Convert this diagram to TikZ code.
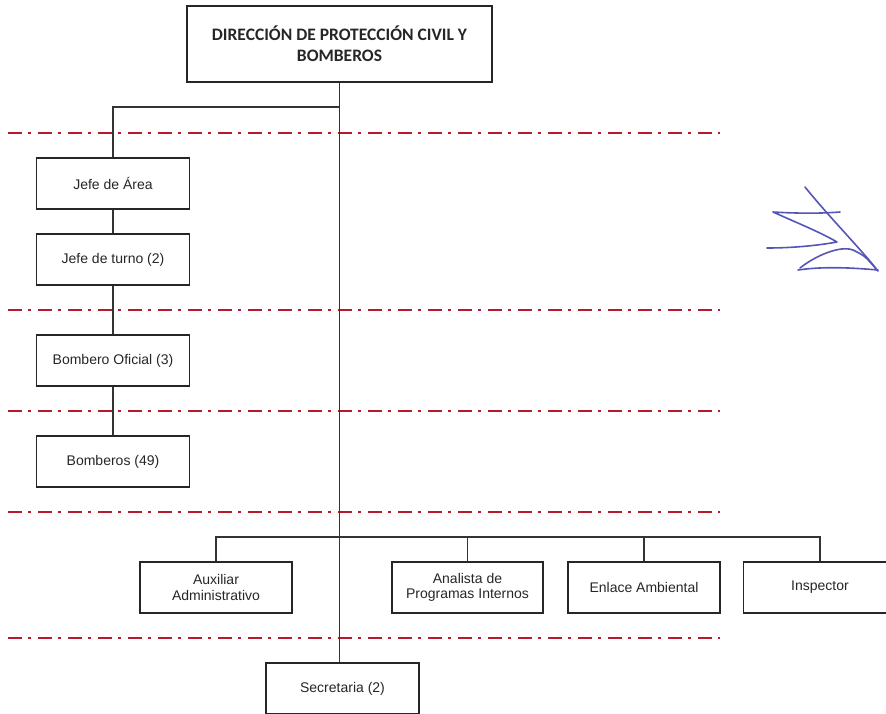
\documentclass[tikz,border=0pt]{standalone}
\usepackage{fontspec}
\setmainfont{Liberation Sans}
\newfontfamily\titlefont{Carlito}
\begin{document}
\begin{tikzpicture}[x=1pt,y=-1pt,
 box/.style={draw=black!85, line width=1.5pt, minimum width=153pt, minimum height=51pt, inner sep=0pt, align=center, font=\fontsize{14}{15.5}\selectfont, text=black!85},
 conn/.style={draw=black!80, line width=1.6pt},
 sep/.style={draw={rgb,255:red,185;green,25;blue,45}, line width=1.8pt, dash pattern=on 14pt off 6pt on 3pt off 7pt},
 sig/.style={draw={rgb,255:red,85;green,85;blue,185}, line width=1.6pt, line cap=round, line join=round}]
\useasboundingbox (0,0) rectangle (886,713);
\clip (0,0) rectangle (886,713);

% separators
\foreach \yy in {133,310,411,512,638} \draw[sep] (8,\yy) -- (720,\yy);

% nodes
\node[box, minimum width=305pt, minimum height=76pt, font=\titlefont\bfseries\fontsize{17.5}{21}\selectfont] (dir) at (339.5,44) {DIRECCIÓN DE PROTECCIÓN CIVIL Y\\BOMBEROS};
\node[box] (jefe) at (113,183.5) {Jefe de Área};
\node[box] (turno) at (113,259.5) {Jefe de turno (2)};
\node[box] (oficial) at (113,360.5) {Bombero Oficial (3)};
\node[box] (bomberos) at (113,461.5) {Bomberos (49)};
\node[box, minimum width=152pt] (aux) at (216,587.5) {Auxiliar\\Administrativo};
\node[box, minimum width=151pt] (anal) at (467.5,587.5) {Analista de\\Programas Internos};
\node[box, minimum width=152pt] (enlace) at (644,587.5) {Enlace Ambiental};
\node[box] (insp) at (820,587.5) {Inspector};
\node[box] (sec) at (342.5,688.5) {Secretaria (2)};

% connectors
\coordinate (j1) at (340,107);
\coordinate (bus) at (340,537);
\draw[conn] (dir.south) -- (dir.south |- sec.north);
\draw[conn] (j1) -| (jefe.north);
\draw[conn] (jefe) -- (turno);
\draw[conn] (turno) -- (oficial);
\draw[conn] (oficial) -- (bomberos);
\draw[conn] (aux.north) |- (bus) -| (insp.north);
\draw[conn] (anal.north) -- (anal.north |- bus);
\draw[conn] (enlace.north) -- (enlace.north |- bus);

% signature
\draw[sig] (805,187) .. controls (830,218) and (860,248) .. (878,271);
\draw[sig] (840,212) .. controls (815,214) and (790,213) .. (773,212) .. controls (795,222) and (820,232) .. (837,242) .. controls (815,246) and (790,248) .. (767,248);
\draw[sig] (800,268) .. controls (815,256) and (840,245) .. (853,250) .. controls (865,256) .. (877,270);
\draw[sig] (798,270) .. controls (825,266) and (855,268) .. (878,270);
\end{tikzpicture}
\end{document}
